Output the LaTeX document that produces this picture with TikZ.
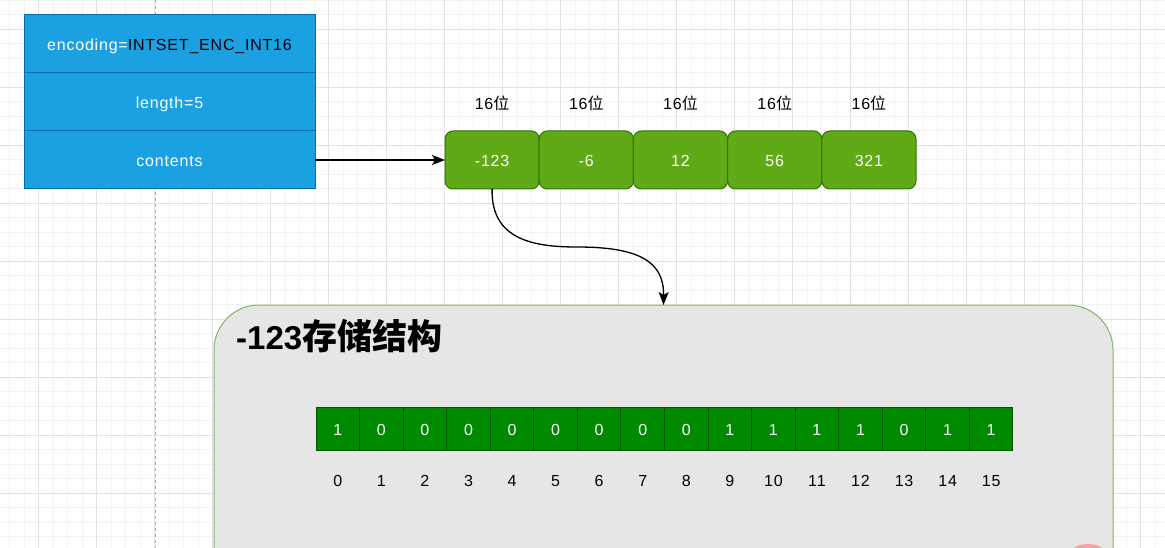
\documentclass[tikz,border=0pt]{standalone}
\usepackage{fontspec}
\setmainfont{Liberation Sans}
\newfontfamily\lsfont{Liberation Sans}[LetterSpace=5]
\newfontfamily\cjk{Noto Sans CJK SC}
\usetikzlibrary{arrows.meta}
\definecolor{blueF}{HTML}{1BA1E2}
\definecolor{blueD}{HTML}{006EAF}
\definecolor{grnF}{HTML}{60A917}
\definecolor{grnD}{HTML}{2D7600}
\definecolor{bitF}{HTML}{008A00}
\definecolor{bitD}{HTML}{005700}
\definecolor{panelF}{HTML}{E6E6E6}
\definecolor{panelD}{HTML}{82B366}
\definecolor{gridMinor}{HTML}{F3F3F3}
\definecolor{gridMajor}{HTML}{E2E2E2}
\definecolor{pinkC}{HTML}{F2A3A3}
\tikzset{
  txt/.style={font=\lsfont\fontsize{16}{19}\selectfont, text height=13.5pt, text depth=0pt},
  bluecell/.style={txt, draw=blueD, fill=blueF, line width=1pt, text=white,
    minimum width=291pt, minimum height=58pt, inner sep=0pt, outer sep=0pt, anchor=north west},
  grncell/.style={txt, draw=grnD, fill=grnF, line width=1pt, text=white, rounded corners=8pt,
    minimum width=94.2pt, minimum height=58pt, inner sep=0pt, outer sep=0pt},
  bitcell/.style={txt, draw=bitD, fill=bitF, line width=1pt, text=white,
    minimum width=43.56pt, minimum height=43pt, inner sep=0pt, outer sep=0pt},
  lbl/.style={txt, text=black, inner sep=0pt},
  panelbox/.style={draw=panelD, fill=panelF, line width=1pt, rounded corners=45pt,
    minimum width=899pt, minimum height=300pt, inner sep=0pt, outer sep=0pt, anchor=north west},
  conn/.style={draw=black, line width=1.3pt, -{Stealth[length=13pt,width=10pt,inset=3pt]}},
}
\begin{document}
\begin{tikzpicture}[x=1pt,y=-1pt]
\useasboundingbox (0,0) rectangle (1165,548);
\fill[white] (0,0) rectangle (1165,548);
% grid
\foreach \i in {0,...,80} \draw[gridMinor, line width=1pt] ({9.7+14.5*\i},0) -- ++(0,548);
\foreach \i in {0,...,38} \draw[gridMinor, line width=1pt] (0,{0.3+14.5*\i}) -- ++(1165,0);
\foreach \i in {0,...,19} \draw[gridMajor, line width=1pt] ({38.7+58*\i},0) -- ++(0,548);
\foreach \i in {0,...,9} \draw[gridMajor, line width=1pt] (0,{29.3+58*\i}) -- ++(1165,0);
\draw[black!30, line width=1pt, dash pattern=on 3pt off 3pt] (155,0) -- (155,548);
% struct
\node[bluecell] (enc) at (24,15) {encoding=\textcolor{black}{INTSET\_ENC\_INT16}};
\node[bluecell] (len) at (24,73) {length=5};
\node[bluecell] (contents) at (24,131) {contents};
% contents cells
\foreach \v [count=\i] in {-123,-6,12,56,321} {
  \node[grncell] (c\i) at ({445+47.1+94.2*(\i-1)},160) {\v};
  \node[lbl] (h\i) at ({445+47.1+94.2*(\i-1)},103) {16{\cjk 位}};
}
\draw[conn] (contents.east) -- (c1.west);
% panel
\node[panelbox] (panel) at (214,305) {};
\fill[pinkC] (1088,574) circle (30);
\coordinate (mid) at (577,247);
\draw[conn] (c1.south) .. controls (491,238) and (530,247) .. (mid) .. controls (640,247) and (664,262) .. (panel.north);
\node[anchor=west, inner sep=0pt, font=\bfseries\fontsize{33}{36}\selectfont] (title) at (236,336) {-123{\cjk\fontsize{35}{36}\selectfont 存储结构}};
\foreach \b [count=\i from 0] in {1,0,0,0,0,0,0,0,0,1,1,1,1,0,1,1} {
  \node[bitcell] (b\i) at ({316+21.78+43.56*\i},428.5) {\b};
  \node[lbl] (n\i) at ({316+21.78+43.56*\i},480) {\i};
}
\end{tikzpicture}
\end{document}
